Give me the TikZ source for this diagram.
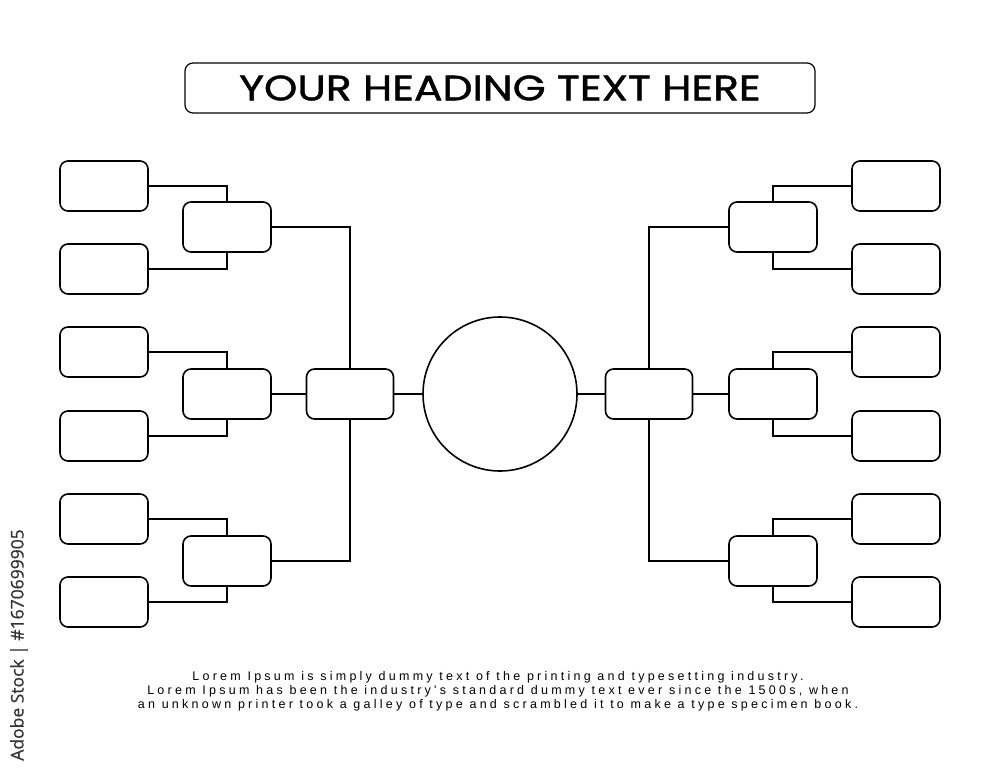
\documentclass[tikz,border=0pt]{standalone}
\usepackage{fontspec}
\newfontfamily\headfont[FakeStretch=1.2, FakeBold=1.3]{Poppins}
\newfontfamily\bodyfont[LetterSpace=26]{Liberation Sans}
\newfontfamily\wmfont[FakeBold=0.6]{Open Sans}
\begin{document}
\begin{tikzpicture}[x=1pt,y=-1pt,
  slot/.style={draw=black, line width=1.6pt, rounded corners=8pt, minimum width=88pt, minimum height=50pt, inner sep=0pt, outer sep=0pt},
  hub/.style={draw=black, line width=1.6pt, circle, minimum size=154pt, inner sep=0pt, outer sep=0pt},
  link/.style={draw=black, line width=1.6pt},
  headbox/.style={draw=black, line width=1.2pt, rounded corners=8pt, minimum width=630pt, minimum height=50pt, inner sep=0pt},
]
\path[use as bounding box, fill=white] (0,0) rectangle (1000,775);

% heading
\node[headbox] (head) at (500,88) {\headfont\fontsize{35.3}{38}\selectfont YOUR HEADING TEXT HERE};

% left leaves
\node[slot] (L1) at (104,186) {};
\node[slot] (L2) at (104,269) {};
\node[slot] (L3) at (104,352) {};
\node[slot] (L4) at (104,436) {};
\node[slot] (L5) at (104,519) {};
\node[slot] (L6) at (104,602) {};
% left round 2
\node[slot] (LA) at (227,227) {};
\node[slot] (LB) at (227,394) {};
\node[slot] (LC) at (227,561) {};
% left round 3
\node[slot, minimum width=87pt] (LS) at (350,394) {};

% right leaves
\node[slot] (R1) at (896,186) {};
\node[slot] (R2) at (896,269) {};
\node[slot] (R3) at (896,352) {};
\node[slot] (R4) at (896,436) {};
\node[slot] (R5) at (896,519) {};
\node[slot] (R6) at (896,602) {};
% right round 2
\node[slot] (RA) at (773,227) {};
\node[slot] (RB) at (773,394) {};
\node[slot] (RC) at (773,561) {};
% right round 3
\node[slot, minimum width=87pt] (RS) at (649,394) {};

% centre
\node[hub] (C) at (500,394) {};

% left connectors
\draw[link] (L1.east) -| (LA.north);
\draw[link] (L2.east) -| (LA.south);
\draw[link] (L3.east) -| (LB.north);
\draw[link] (L4.east) -| (LB.south);
\draw[link] (L5.east) -| (LC.north);
\draw[link] (L6.east) -| (LC.south);
\draw[link] (LA.east) -| (LS.north);
\draw[link] (LB.east) -- (LS.west);
\draw[link] (LC.east) -| (LS.south);
\draw[link] (LS.east) -- (C.west);

% right connectors
\draw[link] (R1.west) -| (RA.north);
\draw[link] (R2.west) -| (RA.south);
\draw[link] (R3.west) -| (RB.north);
\draw[link] (R4.west) -| (RB.south);
\draw[link] (R5.west) -| (RC.north);
\draw[link] (R6.west) -| (RC.south);
\draw[link] (RA.west) -| (RS.north);
\draw[link] (RB.west) -- (RS.east);
\draw[link] (RC.west) -| (RS.south);
\draw[link] (RS.west) -- (C.east);

% footer text
\node[align=center, inner sep=0pt, font=\bodyfont\fontsize{12.5}{14}\selectfont] (foot) at (498,691)
{Lorem Ipsum is simply dummy text of the printing and typesetting industry.\\
Lorem Ipsum has been the industry's standard dummy text ever since the 1500s, when\\
an unknown printer took a galley of type and scrambled it to make a type specimen book.};

% side mark
\node[rotate=90, inner sep=0pt, text=black!80, font=\wmfont\fontsize{17.5}{20}\selectfont] (mark) at (19,645) {Adobe Stock | \#1670699905};
\end{tikzpicture}
\end{document}
